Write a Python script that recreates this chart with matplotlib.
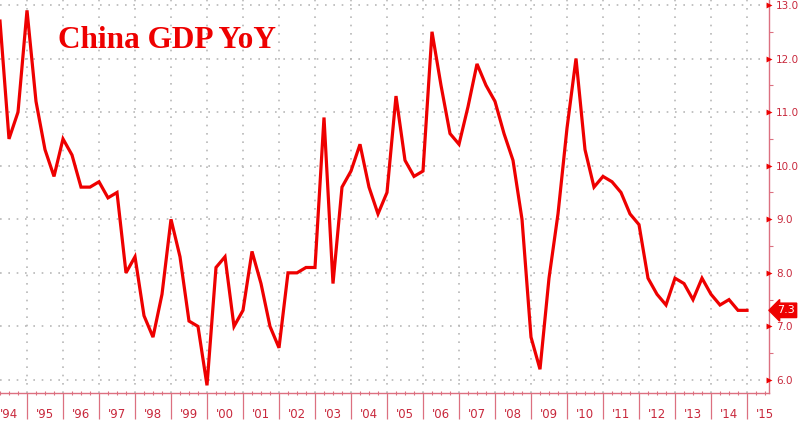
import matplotlib
matplotlib.use("Agg")
import matplotlib.pyplot as plt
import matplotlib.transforms as mtransforms
import numpy as np

# quarterly China GDP YoY, 1994 Q1 .. 2014 Q4
gdp = [12.7, 10.5, 11.0, 12.9, 11.2, 10.3, 9.8, 10.5,
       10.2, 9.6, 9.6, 9.7, 9.4, 9.5, 8.0, 8.3,
       7.2, 6.8, 7.6, 9.0, 8.3, 7.1, 7.0, 5.9,
       8.1, 8.3, 7.0, 7.3, 8.4, 7.8, 7.0, 6.6,
       8.0, 8.0, 8.1, 8.1, 10.9, 7.8, 9.6, 9.9,
       10.4, 9.6, 9.1, 9.5, 11.3, 10.1, 9.8, 9.9,
       12.5, 11.5, 10.6, 10.4, 11.1, 11.9, 11.5, 11.2,
       10.6, 10.1, 9.0, 6.8, 6.2, 7.9, 9.1, 10.7,
       12.0, 10.3, 9.6, 9.8, 9.7, 9.5, 9.1, 8.9,
       7.9, 7.6, 7.4, 7.9, 7.8, 7.5, 7.9, 7.6,
       7.4, 7.5, 7.3, 7.3]
first_year = 1994
years = list(range(1994, 2016))
year_labels = ["'%02d" % (y % 100) for y in years]
y_ticks = [6.0, 7.0, 8.0, 9.0, 10.0, 11.0, 12.0, 13.0]
last_value = gdp[-1]

red = "#ee0000"
pink = "#dc7080"
label_col = "#c8283c"
grid_col = "#b8b8b8"

# points plotted at quarter end
x = first_year + (np.arange(len(gdp)) + 1) / 4.0

fig = plt.figure(figsize=(8, 4.23), dpi=100)
ax = fig.add_axes([0.0, 30 / 423, 769 / 800, 393 / 423])

ax.plot(x, gdp, color=red, lw=2.3, solid_joinstyle="miter", zorder=3)

# grid
ax.set_xticks(years)
ax.set_yticks(y_ticks)
ax.grid(True, color=grid_col, linestyle=(0, (1, 4)), lw=1.2)

# spines
for s in ["left", "top"]:
    ax.spines[s].set_visible(False)
for s in ["right", "bottom"]:
    ax.spines[s].set_color(pink)
    ax.spines[s].set_linewidth(1.0)

# x axis: long year separators, short quarter ticks
ax.set_xticks(np.arange(1994, 2016, 0.25), minor=True)
ax.tick_params(axis="x", which="major", direction="out", length=19,
               width=0.9, color=pink, labelbottom=False)
ax.tick_params(axis="x", which="minor", direction="inout", length=3,
               width=0.8, color=pink)

sec = ax.secondary_xaxis("bottom")
sec.set_xticks([y + 0.5 for y in years])
sec.set_xticklabels(year_labels)
sec.tick_params(length=0, pad=11, labelsize=8.5, labelcolor=label_col)
sec.spines["bottom"].set_visible(False)

# y axis on right
ax.yaxis.tick_right()
ax.set_yticklabels(["%.1f" % v for v in y_ticks])
ax.set_yticks(np.arange(6.0, 13.01, 0.5), minor=True)
ax.tick_params(axis="y", which="major", length=0, pad=5,
               labelsize=7.5, labelcolor=label_col)
ax.tick_params(axis="y", which="minor", direction="out", length=3,
               width=0.8, color=pink)

# limits last so the tick setters do not widen them
ax.set_xlim(first_year + 0.25, first_year + 0.25 + 769 / 36)
ax.set_ylim(5.757, 13.093)

trans = mtransforms.blended_transform_factory(ax.transAxes, ax.transData)
ax.scatter([1.0] * len(y_ticks), y_ticks, marker=">", s=18, color=red,
           transform=trans, clip_on=False, zorder=4, linewidths=0)

# last value flag
ax.text(1.01, last_value, "%.1f" % last_value, transform=trans, color="white",
        fontsize=8, va="center", ha="left", clip_on=False, zorder=5,
        bbox=dict(boxstyle="larrow,pad=0.2", fc=red, ec=red))

# title
fig.text(58 / 800, 1 - 48 / 423, "China GDP YoY", color=red,
         fontfamily="Liberation Serif", fontweight="bold", fontsize=22.5)

fig.savefig("out.png", dpi=100)
